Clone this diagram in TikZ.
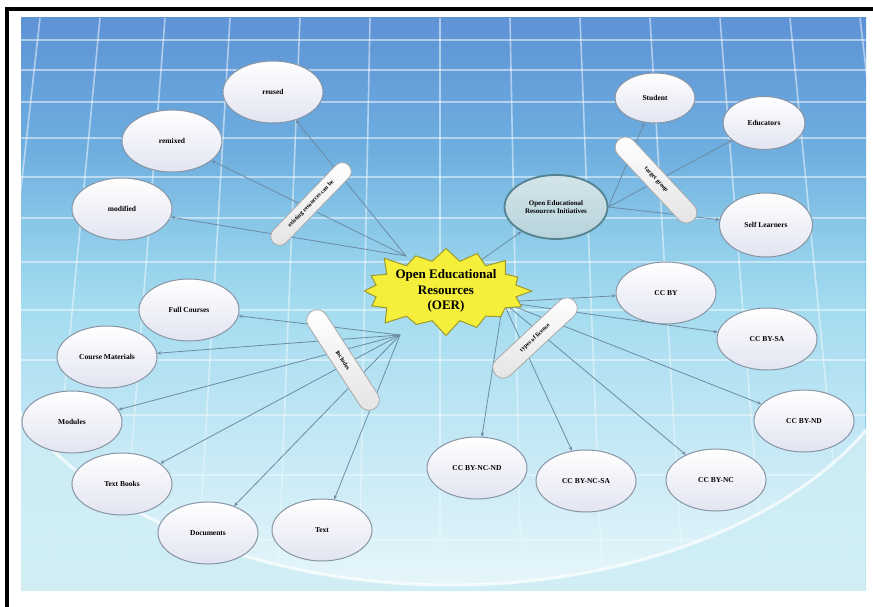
\documentclass[tikz,border=0pt]{standalone}
\usepackage{fontspec}
\setmainfont{Liberation Serif}
\usetikzlibrary{shapes.geometric,shapes.symbols,shapes.misc,arrows.meta,fadings}
\definecolor{bgtop}{HTML}{5E93D6}
\definecolor{bgmid}{HTML}{7FCDEA}
\definecolor{bglow}{HTML}{CDEDF4}
\definecolor{platcol}{HTML}{E8F7FB}
\definecolor{ovalline}{HTML}{8794A3}
\definecolor{ovalfill}{HTML}{E2E4F1}
\definecolor{iniline}{HTML}{55818F}
\definecolor{inifill}{HTML}{B7D3DB}
\definecolor{connline}{HTML}{6C8BA3}
\definecolor{pillline}{HTML}{A9A9A9}
\definecolor{pillfill}{HTML}{E4E4E4}
\definecolor{stardraw}{HTML}{9C9A2E}
\definecolor{starfill}{HTML}{F5EE3A}
\tikzfading[name=fade up, top color=transparent!100, bottom color=transparent!0]
\begin{document}
\begin{tikzpicture}[x=1pt, y=-1pt,
    ovalbox/.style={ellipse, draw=ovalline, line width=1pt, top color=white, bottom color=ovalfill,
      minimum width=100pt, minimum height=62pt, inner sep=1pt, font=\bfseries\fontsize{7.5}{9}\selectfont},
    pill/.style={rounded rectangle, draw=pillline, line width=0.8pt, top color=white, bottom color=pillfill,
      minimum height=21pt, inner sep=1pt, font=\bfseries\fontsize{6}{7}\selectfont},
    conn/.style={draw=connline, line width=0.8pt, -{Stealth[length=4pt,width=3.5pt]}},
    gridline/.style={white, line width=1.6pt, opacity=0.5}]
  \useasboundingbox (0,0) rectangle (873,607);
  \fill[white] (0,0) rectangle (873,607);
  \draw[line width=4pt] (7,607) -- (7,9) -- (873,9);
  % background
  \begin{scope}
    \clip (21,18) rectangle (866,591);
    \shade[top color=bgtop, bottom color=bgmid] (21,18) rectangle (866,300);
    \fill[bgmid] (21,300) rectangle (866,591);
    \foreach \y in {40,70,102,138,177,218,262,310,360,415,475,540}
      \draw[gridline] (21,\y) -- (866,\y);
    \foreach \x in {-40,40,100,165,230,300,370,440,510,580,650,720,790,860,930}
      \draw[gridline] (\x,18) -- ({\x+(\x-440)*0.16},591);
    \fill[platcol, path fading=fade up] (21,150) rectangle (866,591);
    \begin{scope}
      \clip (21,330) rectangle (866,591);
      \fill[bglow, opacity=0.85, even odd rule] (21,18) rectangle (866,591) (450,295) ellipse [x radius=470, y radius=290];
      \draw[white, line width=3pt, opacity=0.7] (450,295) ellipse [x radius=470, y radius=290];
    \end{scope}
  \end{scope}
  % resources
  \node[ovalbox] (reused) at (273,92) {reused};
  \node[ovalbox] (remixed) at (172,141) {remixed};
  \node[ovalbox] (modified) at (122,209) {modified};
  % target group
  \node[ovalbox, minimum width=80pt, minimum height=50pt] (student) at (655,98) {Student};
  \node[ovalbox, minimum width=82pt, minimum height=53pt] (educators) at (764,123) {Educators};
  \node[ovalbox, minimum width=93pt, minimum height=64pt] (selflearners) at (766,225) {Self Learners};
  \node[ellipse, draw=iniline, line width=1.8pt, top color=inifill!60, bottom color=inifill, minimum width=103pt,
    minimum height=64pt, inner sep=0pt, align=center, font=\bfseries\fontsize{7}{8.5}\selectfont]
    (initiatives) at (556,207) {Open Educational\\Resources Initiatives};
  % includes
  \node[ovalbox] (fullcourses) at (189,310) {Full Courses};
  \node[ovalbox] (coursematerials) at (107,357) {Course Materials};
  \node[ovalbox] (modules) at (72,422) {Modules};
  \node[ovalbox] (textbooks) at (122,484) {Text Books};
  \node[ovalbox] (documents) at (208,533) {Documents};
  \node[ovalbox] (text) at (322,530) {Text};
  % licenses
  \node[ovalbox] (ccby) at (666,293) {CC BY};
  \node[ovalbox] (ccbysa) at (767,339) {CC BY-SA};
  \node[ovalbox] (ccbynd) at (804,421) {CC BY-ND};
  \node[ovalbox] (ccbync) at (716,480) {CC BY-NC};
  \node[ovalbox] (ccbyncsa) at (586,481) {CC BY-NC-SA};
  \node[ovalbox] (ccbyncnd) at (477,468) {CC BY-NC-ND};
  % connectors
  \coordinate (hubres) at (406,256);
  \coordinate (hubinc) at (400,335);
  \coordinate (hublic) at (503,302);
  \coordinate (hubini) at (470,268);
  \foreach \n in {reused,remixed,modified}
    \draw[conn] (hubres) -- (\n);
  \foreach \n in {fullcourses,coursematerials,modules,textbooks,documents,text}
    \draw[conn] (hubinc) -- (\n);
  \foreach \n in {ccby,ccbysa,ccbynd,ccbync,ccbyncsa,ccbyncnd}
    \draw[conn] (hublic) -- (\n);
  \foreach \n in {student,educators,selflearners}
    \draw[conn] (initiatives.east) -- (\n);
  \draw[conn] (hubini) -- (initiatives);
  % labels on the links
  \node[pill, minimum width=110pt, minimum height=18pt, rotate=46] (canbe) at (311,204) {existing resources can be};
  \node[pill, minimum width=112pt, rotate=-47] (target) at (656,180) {target group};
  \node[pill, minimum width=118pt, rotate=-57] (includes) at (343,360) {Includes};
  \node[pill, minimum width=110pt, rotate=43] (types) at (535,338) {types of license};
  % centre
  \node[starburst, draw=stardraw, line width=1pt, fill=starfill, minimum width=168pt, minimum height=92pt,
    starburst points=16, starburst point height=17pt, inner sep=0pt, align=center,
    font=\bfseries\fontsize{13}{15.5}\selectfont] (oer) at (446,291) {Open Educational\\Resources\\(OER)};
\end{tikzpicture}
\end{document}
